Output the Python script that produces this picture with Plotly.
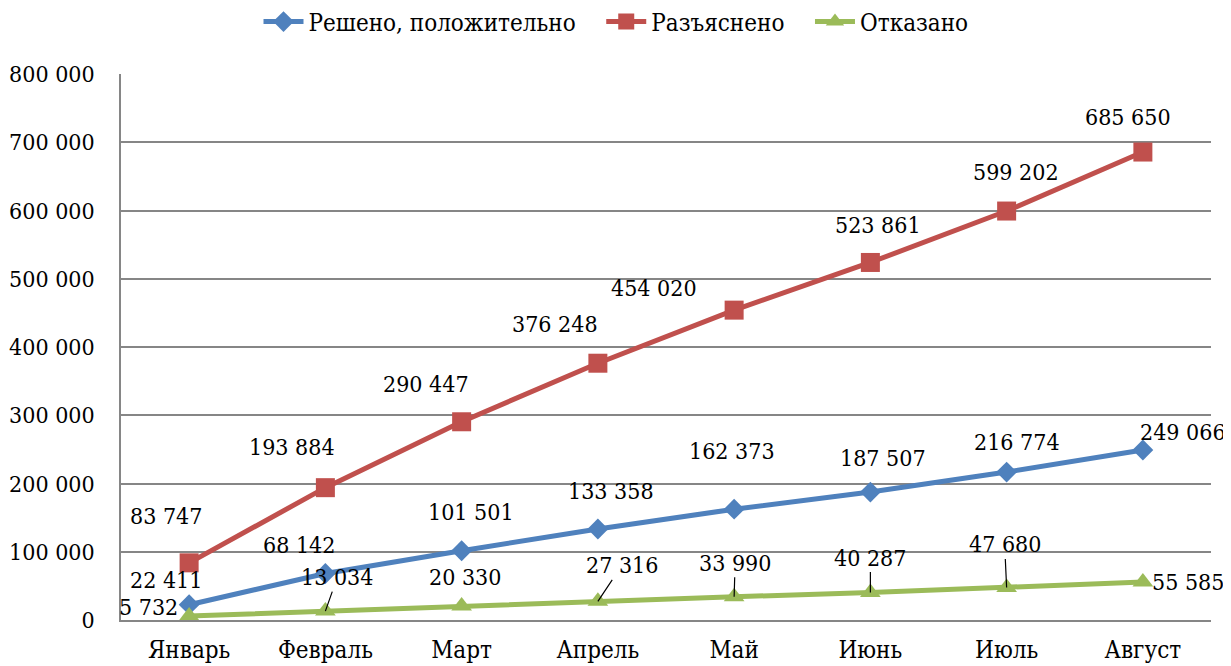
import plotly.graph_objects as go

months = ["Январь", "Февраль", "Март", "Апрель", "Май", "Июнь", "Июль", "Август"]
resheno = [22411, 68142, 101501, 133358, 162373, 187507, 216774, 249066]
razyasneno = [83747, 193884, 290447, 376248, 454020, 523861, 599202, 685650]
otkazano = [5732, 13034, 20330, 27316, 33990, 40287, 47680, 55585]

y_ticks = [0, 100000, 200000, 300000, 400000, 500000, 600000, 700000, 800000]

FONT = "DejaVu Serif Condensed"
BLUE, RED, GREEN = "#4F81BD", "#C0504D", "#9BBB59"
GAP = "\u00a0\u00a0\u00a0"  # spacing between legend items

def fmt(v):
    return f"{v:,}".replace(",", " ")

off_blue = [(-23, -25), (-26, -28), (9, -39), (13, -38), (-2, -58), (13, -34), (10, -30), (40, -18)]
off_red = [(-23, -47), (-33, -41), (-36, -38), (-43, -39), (-80, -22), (8, -37), (9, -39), (-15, -35)]
off_green = [(-41, -9), (12, -34), (3, -29), (24, -36), (1, -34), (0, -35), (-2, -43), (45, 0)]
leader_green = [False, True, False, True, True, True, True, False]

fig = go.Figure()
series = [
    ("Решено, положительно", resheno, BLUE, "diamond", 16),
    ("Разъяснено", razyasneno, RED, "square", 19),
    ("Отказано", otkazano, GREEN, "triangle-up", 18),
]
for name, vals, col, sym, sz in series:
    fig.add_trace(go.Scatter(
        x=months, y=vals, name=name + GAP, mode="lines+markers",
        line=dict(color=col, width=5),
        marker=dict(symbol=sym, size=sz, color=col),
    ))

annotations = []
def add_labels(vals, offs, leaders=None):
    for i, (m, v) in enumerate(zip(months, vals)):
        dx, dy = offs[i]
        if leaders and leaders[i]:
            annotations.append(dict(
                x=m, y=v, xref="x", yref="y", text=fmt(v),
                showarrow=True, ax=dx, ay=dy, arrowhead=0, arrowwidth=1.2,
                arrowcolor="black", standoff=0, startstandoff=0,
                font=dict(family=FONT, size=23, color="black"),
            ))
        else:
            annotations.append(dict(
                x=m, y=v, xref="x", yref="y", text=fmt(v),
                showarrow=False, xshift=dx, yshift=-dy,
                font=dict(family=FONT, size=23, color="black"),
            ))

add_labels(resheno, off_blue)
add_labels(razyasneno, off_red)
add_labels(otkazano, off_green, leader_green)

fig.update_layout(
    width=1223, height=658,
    margin=dict(l=113, r=20, t=66, b=46),
    paper_bgcolor="white", plot_bgcolor="white",
    font=dict(family=FONT, size=23, color="black"),
    separators=", ",
    showlegend=True,
    legend=dict(
        orientation="h", x=0.5 + 7 / 1223, xanchor="center", xref="container",
        y=1 - 14 / 658, yanchor="middle", yref="container",
        font=dict(family=FONT, size=24, color="black"),
        itemwidth=40, tracegroupgap=0,
    ),
    annotations=annotations,
)
fig.update_xaxes(
    type="category", showgrid=False, showline=True, linecolor="#868686", linewidth=1.5,
    ticks="", ticklabelstandoff=7, automargin=False,
    tickfont=dict(family=FONT, size=24), range=[-0.5, 7.5],
)
fig.update_yaxes(
    range=[0, 800000], tickvals=y_ticks, tickformat=",d",
    showgrid=True, gridcolor="#868686", gridwidth=1.5,
    showline=True, linecolor="#868686", linewidth=1.5,
    ticks="", ticklabelstandoff=20, automargin=False,
    tickfont=dict(family=FONT, size=23), zeroline=False,
)

fig.write_html("out.html")
